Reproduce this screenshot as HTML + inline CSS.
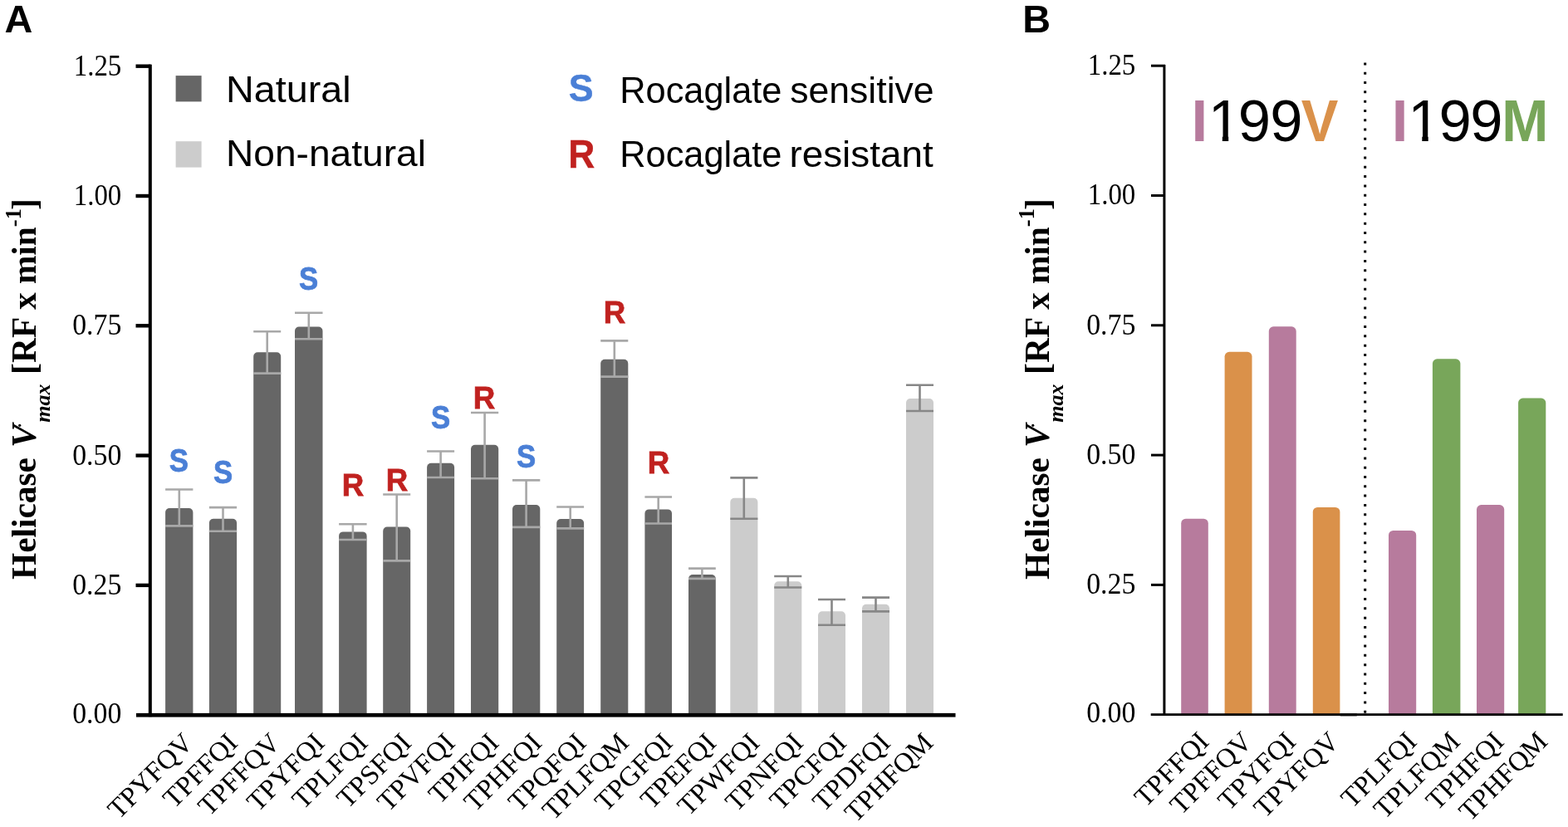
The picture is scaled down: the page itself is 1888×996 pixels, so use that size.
<!DOCTYPE html><html><head><meta charset="utf-8"><title>Helicase Vmax</title><style>
html,body{margin:0;padding:0;background:#fff;}body{width:1888px;height:996px;overflow:hidden;}
svg{display:block;}
.ser{font-family:'Liberation Serif', 'Times New Roman', serif;}.san{font-family:'Liberation Sans', Arial, sans-serif;}
</style></head><body>
<svg width="1888" height="996" viewBox="0 0 1888 996">
<rect width="1888" height="996" fill="#fff"/>
<text class="san" x="5.6" y="38.7" font-size="46.8" font-weight="bold">A</text>
<text class="san" x="1231.2" y="38.7" font-size="46.8" font-weight="bold">B</text>
<path d="M199.1,861.2V617.1A5.0,5.0 0 0 1 204.1,612.1H227.4A5.0,5.0 0 0 1 232.4,617.1V861.2Z" fill="#666666"/>
<path d="M251.9,861.2V629.8A5.0,5.0 0 0 1 256.9,624.8H280.1A5.0,5.0 0 0 1 285.1,629.8V861.2Z" fill="#666666"/>
<path d="M305.2,861.2V429.2A5.0,5.0 0 0 1 310.2,424.2H333.2A5.0,5.0 0 0 1 338.2,429.2V861.2Z" fill="#666666"/>
<path d="M355.0,861.2V398.5A5.0,5.0 0 0 1 360.0,393.5H383.5A5.0,5.0 0 0 1 388.5,398.5V861.2Z" fill="#666666"/>
<path d="M408.1,861.2V645.4A5.0,5.0 0 0 1 413.1,640.4H436.6A5.0,5.0 0 0 1 441.6,645.4V861.2Z" fill="#666666"/>
<path d="M461.2,861.2V639.6A5.0,5.0 0 0 1 466.2,634.6H489.2A5.0,5.0 0 0 1 494.2,639.6V861.2Z" fill="#666666"/>
<path d="M514.1,861.2V562.7A5.0,5.0 0 0 1 519.1,557.7H542.1A5.0,5.0 0 0 1 547.1,562.7V861.2Z" fill="#666666"/>
<path d="M567.0,861.2V540.8A5.0,5.0 0 0 1 572.0,535.8H595.2A5.0,5.0 0 0 1 600.2,540.8V861.2Z" fill="#666666"/>
<path d="M617.0,861.2V613.1A5.0,5.0 0 0 1 622.0,608.1H645.3A5.0,5.0 0 0 1 650.3,613.1V861.2Z" fill="#666666"/>
<path d="M670.2,861.2V630.0A5.0,5.0 0 0 1 675.2,625.0H698.1A5.0,5.0 0 0 1 703.1,630.0V861.2Z" fill="#666666"/>
<path d="M723.2,861.2V437.7A5.0,5.0 0 0 1 728.2,432.7H751.3A5.0,5.0 0 0 1 756.3,437.7V861.2Z" fill="#666666"/>
<path d="M776.4,861.2V618.4A5.0,5.0 0 0 1 781.4,613.4H804.0A5.0,5.0 0 0 1 809.0,618.4V861.2Z" fill="#666666"/>
<path d="M829.0,861.2V697.0A5.0,5.0 0 0 1 834.0,692.0H856.8A5.0,5.0 0 0 1 861.8,697.0V861.2Z" fill="#666666"/>
<path d="M879.3,861.2V604.8A5.0,5.0 0 0 1 884.3,599.8H907.4A5.0,5.0 0 0 1 912.4,604.8V861.2Z" fill="#cccccc"/>
<path d="M932.2,861.2V705.2A5.0,5.0 0 0 1 937.2,700.2H960.3A5.0,5.0 0 0 1 965.3,705.2V861.2Z" fill="#cccccc"/>
<path d="M985.0,861.2V741.3A5.0,5.0 0 0 1 990.0,736.3H1013.0A5.0,5.0 0 0 1 1018.0,741.3V861.2Z" fill="#cccccc"/>
<path d="M1038.0,861.2V732.8A5.0,5.0 0 0 1 1043.0,727.8H1066.0A5.0,5.0 0 0 1 1071.0,732.8V861.2Z" fill="#cccccc"/>
<path d="M1091.0,861.2V485.0A5.0,5.0 0 0 1 1096.0,480.0H1119.0A5.0,5.0 0 0 1 1124.0,485.0V861.2Z" fill="#cccccc"/>
<g stroke="#a8a8a8" stroke-width="2.6" fill="none"><path d="M199.1,589.5H232.4M215.8,589.5V633.4M199.1,633.4H232.4"/></g>
<text class="san" transform="translate(215.4,567.7) scale(0.91,1)" font-size="38.2" font-weight="bold" fill="#4a7fd6" stroke="#4a7fd6" stroke-width="0.8" text-anchor="middle">S</text>
<g stroke="#a8a8a8" stroke-width="2.6" fill="none"><path d="M251.9,611.1H285.1M268.5,611.1V639.7M251.9,639.7H285.1"/></g>
<text class="san" transform="translate(268.5,581.6) scale(0.91,1)" font-size="38.2" font-weight="bold" fill="#4a7fd6" stroke="#4a7fd6" stroke-width="0.8" text-anchor="middle">S</text>
<g stroke="#a8a8a8" stroke-width="2.6" fill="none"><path d="M305.2,399.2H338.2M321.7,399.2V449.6M305.2,449.6H338.2"/></g>
<g stroke="#a8a8a8" stroke-width="2.6" fill="none"><path d="M355.0,376.7H388.5M371.8,376.7V408.3M355.0,408.3H388.5"/></g>
<text class="san" transform="translate(371.5,348.9) scale(0.91,1)" font-size="38.2" font-weight="bold" fill="#4a7fd6" stroke="#4a7fd6" stroke-width="0.8" text-anchor="middle">S</text>
<g stroke="#a8a8a8" stroke-width="2.6" fill="none"><path d="M408.1,631.2H441.6M424.9,631.2V650.0M408.1,650.0H441.6"/></g>
<text class="san" transform="translate(425.1,597.0) scale(0.97,1)" font-size="37.8" font-weight="bold" fill="#c0211f" stroke="#c0211f" stroke-width="0.8" text-anchor="middle">R</text>
<g stroke="#a8a8a8" stroke-width="2.6" fill="none"><path d="M461.2,595.5H494.2M477.7,595.5V675.4M461.2,675.4H494.2"/></g>
<text class="san" transform="translate(478.0,591.1) scale(0.97,1)" font-size="37.8" font-weight="bold" fill="#c0211f" stroke="#c0211f" stroke-width="0.8" text-anchor="middle">R</text>
<g stroke="#a8a8a8" stroke-width="2.6" fill="none"><path d="M514.1,543.5H547.1M530.6,543.5V575.0M514.1,575.0H547.1"/></g>
<text class="san" transform="translate(530.6,515.9) scale(0.91,1)" font-size="38.2" font-weight="bold" fill="#4a7fd6" stroke="#4a7fd6" stroke-width="0.8" text-anchor="middle">S</text>
<g stroke="#a8a8a8" stroke-width="2.6" fill="none"><path d="M567.0,497.0H600.2M583.6,497.0V576.2M567.0,576.2H600.2"/></g>
<text class="san" transform="translate(583.1,491.9) scale(0.97,1)" font-size="37.8" font-weight="bold" fill="#c0211f" stroke="#c0211f" stroke-width="0.8" text-anchor="middle">R</text>
<g stroke="#a8a8a8" stroke-width="2.6" fill="none"><path d="M617.0,578.4H650.3M633.6,578.4V634.9M617.0,634.9H650.3"/></g>
<text class="san" transform="translate(633.6,563.4) scale(0.91,1)" font-size="38.2" font-weight="bold" fill="#4a7fd6" stroke="#4a7fd6" stroke-width="0.8" text-anchor="middle">S</text>
<g stroke="#a8a8a8" stroke-width="2.6" fill="none"><path d="M670.2,610.5H703.1M686.7,610.5V636.4M670.2,636.4H703.1"/></g>
<g stroke="#a8a8a8" stroke-width="2.6" fill="none"><path d="M723.2,410.4H756.3M739.8,410.4V453.6M723.2,453.6H756.3"/></g>
<text class="san" transform="translate(739.9,388.9) scale(0.97,1)" font-size="37.8" font-weight="bold" fill="#c0211f" stroke="#c0211f" stroke-width="0.8" text-anchor="middle">R</text>
<g stroke="#a8a8a8" stroke-width="2.6" fill="none"><path d="M776.4,598.5H809.0M792.7,598.5V630.5M776.4,630.5H809.0"/></g>
<text class="san" transform="translate(792.9,570.1) scale(0.97,1)" font-size="37.8" font-weight="bold" fill="#c0211f" stroke="#c0211f" stroke-width="0.8" text-anchor="middle">R</text>
<g stroke="#a8a8a8" stroke-width="2.6" fill="none"><path d="M829.0,684.6H861.8M845.4,684.6V696.9M829.0,696.9H861.8"/></g>
<g stroke="#878787" stroke-width="2.6" fill="none"><path d="M879.3,575.4H912.4M895.8,575.4V624.7M879.3,624.7H912.4"/></g>
<g stroke="#878787" stroke-width="2.6" fill="none"><path d="M932.2,694.0H965.3M948.8,694.0V707.5M932.2,707.5H965.3"/></g>
<g stroke="#878787" stroke-width="2.6" fill="none"><path d="M985.0,722.0H1018.0M1001.5,722.0V752.7M985.0,752.7H1018.0"/></g>
<g stroke="#878787" stroke-width="2.6" fill="none"><path d="M1038.0,719.6H1071.0M1054.5,719.6V736.4M1038.0,736.4H1071.0"/></g>
<g stroke="#878787" stroke-width="2.6" fill="none"><path d="M1091.0,463.8H1124.0M1107.5,463.8V495.0M1091.0,495.0H1124.0"/></g>
<g fill="#000">
<rect x="178.8" y="77.7" width="4" height="785.5"/>
<rect x="163.5" y="77.5" width="18" height="4.4"/>
<rect x="163.5" y="233.8" width="18" height="4.4"/>
<rect x="163.5" y="390.1" width="18" height="4.4"/>
<rect x="163.5" y="546.4" width="18" height="4.4"/>
<rect x="163.5" y="702.7" width="18" height="4.4"/>
<rect x="164" y="858.9" width="986.5" height="4.7"/>
</g>
<text class="ser" x="146.3" y="90.6" font-size="35.5" text-anchor="end" textLength="57.5" lengthAdjust="spacingAndGlyphs">1.25</text>
<text class="ser" x="146.3" y="246.9" font-size="35.5" text-anchor="end" textLength="57.5" lengthAdjust="spacingAndGlyphs">1.00</text>
<text class="ser" x="146.3" y="403.2" font-size="35.5" text-anchor="end" textLength="59.1" lengthAdjust="spacingAndGlyphs">0.75</text>
<text class="ser" x="146.3" y="559.5" font-size="35.5" text-anchor="end" textLength="59.1" lengthAdjust="spacingAndGlyphs">0.50</text>
<text class="ser" x="146.3" y="715.8" font-size="35.5" text-anchor="end" textLength="59.1" lengthAdjust="spacingAndGlyphs">0.25</text>
<text class="ser" x="146.3" y="870.8" font-size="35.5" text-anchor="end" textLength="59.1" lengthAdjust="spacingAndGlyphs">0.00</text>
<text class="ser" transform="translate(42.5,698) rotate(-90)" font-size="42" font-weight="bold"><tspan textLength="146.8" lengthAdjust="spacingAndGlyphs">Helicase</tspan><tspan dx="12.2" font-style="italic">V</tspan><tspan font-style="italic" font-size="26" dy="17" dx="2.2">max</tspan><tspan dy="-17" dx="11.6">[</tspan><tspan textLength="163.8" lengthAdjust="spacingAndGlyphs">RF x min</tspan><tspan font-size="26.5" dy="-18">-1</tspan><tspan dy="18" dx="-2">]</tspan></text><circle cx="23.7" cy="512.3" r="1.6" fill="#000"/>
<text class="ser" transform="translate(1262.5,698) rotate(-90)" font-size="42" font-weight="bold"><tspan textLength="146.8" lengthAdjust="spacingAndGlyphs">Helicase</tspan><tspan dx="12.2" font-style="italic">V</tspan><tspan font-style="italic" font-size="26" dy="17" dx="2.2">max</tspan><tspan dy="-17" dx="11.6">[</tspan><tspan textLength="163.8" lengthAdjust="spacingAndGlyphs">RF x min</tspan><tspan font-size="26.5" dy="-18">-1</tspan><tspan dy="18" dx="-2">]</tspan></text><circle cx="1243.7" cy="512.3" r="1.6" fill="#000"/>
<rect x="211.6" y="91.1" width="31" height="31.3" fill="#666666"/>
<rect x="211.6" y="170.2" width="31" height="31.4" fill="#cccccc"/>
<text class="san" x="272.0" y="123.2" font-size="45" textLength="150.6" lengthAdjust="spacingAndGlyphs">Natural</text>
<text class="san" x="272.0" y="199.5" font-size="45" textLength="240.97" lengthAdjust="spacingAndGlyphs">Non-natural</text>
<text class="san" transform="translate(699.55,122.3) scale(0.95,1)" font-size="47" font-weight="bold" fill="#4a7fd6" stroke="#4a7fd6" stroke-width="0.5" text-anchor="middle">S</text>
<text class="san" transform="translate(700.3,201.7) scale(0.94,1)" font-size="47.2" font-weight="bold" fill="#c0211f" stroke="#c0211f" stroke-width="0.4" text-anchor="middle">R</text>
<text class="san" y="123.6" font-size="45"><tspan x="746.3" textLength="195.06" lengthAdjust="spacingAndGlyphs">Rocaglate</tspan> <tspan x="951.2" textLength="173.45" lengthAdjust="spacingAndGlyphs">sensitive</tspan></text>
<text class="san" y="200.7" font-size="45"><tspan x="746.3" textLength="195.06" lengthAdjust="spacingAndGlyphs">Rocaglate</tspan> <tspan x="950.4" textLength="173.24" lengthAdjust="spacingAndGlyphs">resistant</tspan></text>
<text class="ser" transform="translate(234.2,896.5) rotate(-45)" font-size="33.2" text-anchor="end">TPYFQV</text>
<text class="ser" transform="translate(287.8,896.5) rotate(-45)" font-size="33.2" text-anchor="end">TPFFQI</text>
<text class="ser" transform="translate(339.2,896.5) rotate(-45)" font-size="33.2" text-anchor="end">TPFFQV</text>
<text class="ser" transform="translate(392.6,896.5) rotate(-45)" font-size="33.2" text-anchor="end">TPYFQI</text>
<text class="ser" transform="translate(444.6,896.5) rotate(-45)" font-size="33.2" text-anchor="end">TPLFQI</text>
<text class="ser" transform="translate(497.0,896.5) rotate(-45)" font-size="33.2" text-anchor="end">TPSFQI</text>
<text class="ser" transform="translate(549.6,896.5) rotate(-45)" font-size="33.2" text-anchor="end">TPVFQI</text>
<text class="ser" transform="translate(602.2,896.5) rotate(-45)" font-size="33.2" text-anchor="end">TPIFQI</text>
<text class="ser" transform="translate(654.1,896.5) rotate(-45)" font-size="33.2" text-anchor="end">TPHFQI</text>
<text class="ser" transform="translate(707.5,896.5) rotate(-45)" font-size="33.2" text-anchor="end">TPQFQI</text>
<text class="ser" transform="translate(758.8,896.5) rotate(-45)" font-size="33.2" text-anchor="end">TPLFQM</text>
<text class="ser" transform="translate(811.7,896.5) rotate(-45)" font-size="33.2" text-anchor="end">TPGFQI</text>
<text class="ser" transform="translate(864.0,896.5) rotate(-45)" font-size="33.2" text-anchor="end">TPEFQI</text>
<text class="ser" transform="translate(916.3,896.5) rotate(-45)" font-size="33.2" text-anchor="end">TPWFQI</text>
<text class="ser" transform="translate(968.9,896.5) rotate(-45)" font-size="33.2" text-anchor="end">TPNFQI</text>
<text class="ser" transform="translate(1020.8,896.5) rotate(-45)" font-size="33.2" text-anchor="end">TPCFQI</text>
<text class="ser" transform="translate(1073.8,896.5) rotate(-45)" font-size="33.2" text-anchor="end">TPDFQI</text>
<text class="ser" transform="translate(1125.4,896.5) rotate(-45)" font-size="33.2" text-anchor="end">TPHFQM</text>
<path d="M1422.2,860.2V630.2A5.5,5.5 0 0 1 1427.7,624.7H1449.3A5.5,5.5 0 0 1 1454.8,630.2V860.2Z" fill="#b77b9d"/>
<path d="M1474.6,860.2V429.3A5.5,5.5 0 0 1 1480.1,423.8H1502.0A5.5,5.5 0 0 1 1507.5,429.3V860.2Z" fill="#da914a"/>
<path d="M1527.8,860.2V398.8A5.5,5.5 0 0 1 1533.3,393.3H1555.2A5.5,5.5 0 0 1 1560.7,398.8V860.2Z" fill="#b77b9d"/>
<path d="M1580.8,860.2V616.5A5.5,5.5 0 0 1 1586.3,611.0H1607.9A5.5,5.5 0 0 1 1613.4,616.5V860.2Z" fill="#da914a"/>
<path d="M1672.0,860.2V644.5A5.5,5.5 0 0 1 1677.5,639.0H1699.7A5.5,5.5 0 0 1 1705.2,644.5V860.2Z" fill="#b77b9d"/>
<path d="M1724.9,860.2V437.8A5.5,5.5 0 0 1 1730.4,432.3H1752.9A5.5,5.5 0 0 1 1758.4,437.8V860.2Z" fill="#78a65a"/>
<path d="M1778.0,860.2V613.6A5.5,5.5 0 0 1 1783.5,608.1H1805.7A5.5,5.5 0 0 1 1811.2,613.6V860.2Z" fill="#b77b9d"/>
<path d="M1828.1,860.2V485.1A5.5,5.5 0 0 1 1833.6,479.6H1855.8A5.5,5.5 0 0 1 1861.3,485.1V860.2Z" fill="#78a65a"/>
<g fill="#000">
<rect x="1400.4" y="78" width="3" height="783.5"/>
<rect x="1386" y="77.7" width="17" height="3"/>
<rect x="1386" y="234.0" width="17" height="3"/>
<rect x="1386" y="390.3" width="17" height="3"/>
<rect x="1386" y="546.6" width="17" height="3"/>
<rect x="1386" y="702.9" width="17" height="3"/>
<rect x="1385.7" y="859.2" width="496" height="2.8"/>
<rect x="1613.7" y="859.4" width="20.1" height="3.0"/>
</g>
<text class="ser" x="1367.3" y="90.1" font-size="35.5" text-anchor="end" textLength="57.5" lengthAdjust="spacingAndGlyphs">1.25</text>
<text class="ser" x="1367.3" y="246.4" font-size="35.5" text-anchor="end" textLength="57.5" lengthAdjust="spacingAndGlyphs">1.00</text>
<text class="ser" x="1367.3" y="402.7" font-size="35.5" text-anchor="end" textLength="59.1" lengthAdjust="spacingAndGlyphs">0.75</text>
<text class="ser" x="1367.3" y="559.0" font-size="35.5" text-anchor="end" textLength="59.1" lengthAdjust="spacingAndGlyphs">0.50</text>
<text class="ser" x="1367.3" y="715.3" font-size="35.5" text-anchor="end" textLength="59.1" lengthAdjust="spacingAndGlyphs">0.25</text>
<text class="ser" x="1367.3" y="870.3" font-size="35.5" text-anchor="end" textLength="59.1" lengthAdjust="spacingAndGlyphs">0.00</text>
<line x1="1643.7" y1="75.4" x2="1643.7" y2="858.7" stroke="#000" stroke-width="3" stroke-dasharray="3 8.309"/>
<defs>
<clipPath id="one0" clipPathUnits="userSpaceOnUse"><rect x="1444.8" y="90" width="60" height="73.6"/><rect x="1471.8" y="90" width="7.4" height="90"/></clipPath>
<clipPath id="one1" clipPathUnits="userSpaceOnUse"><rect x="1685.3" y="90" width="60" height="73.6"/><rect x="1712.3" y="90" width="7.4" height="90"/></clipPath>
</defs>
<text class="san" x="1434.6" y="169.6" font-size="70.6" font-weight="bold" fill="#b77b9d">I</text>
<text class="san" x="1454.8" y="169.6" font-size="70.6" clip-path="url(#one0)">1</text>
<text class="san" x="1490.7" y="169.6" font-size="70.6">9</text>
<text class="san" x="1529.3" y="169.6" font-size="70.6">9</text>
<text class="san" x="1566.8" y="169.6" font-size="70.6" font-weight="bold" fill="#da914a" textLength="44.6" lengthAdjust="spacingAndGlyphs">V</text>
<text class="san" x="1675.7" y="169.6" font-size="70.6" font-weight="bold" fill="#b77b9d">I</text>
<text class="san" x="1695.3" y="169.6" font-size="70.6" clip-path="url(#one1)">1</text>
<text class="san" x="1732.6" y="169.6" font-size="70.6">9</text>
<text class="san" x="1770.2" y="169.6" font-size="70.6">9</text>
<text class="san" x="1808.3" y="169.6" font-size="70.6" font-weight="bold" fill="#78a65a" textLength="56.1" lengthAdjust="spacingAndGlyphs">M</text>
<text class="ser" transform="translate(1457.4,895.0) rotate(-45)" font-size="33.2" text-anchor="end">TPFFQI</text>
<text class="ser" transform="translate(1509.5,895.0) rotate(-45)" font-size="33.2" text-anchor="end">TPFFQV</text>
<text class="ser" transform="translate(1562.0,895.0) rotate(-45)" font-size="33.2" text-anchor="end">TPYFQI</text>
<text class="ser" transform="translate(1614.2,895.0) rotate(-45)" font-size="33.2" text-anchor="end">TPYFQV</text>
<text class="ser" transform="translate(1707.6,895.0) rotate(-45)" font-size="33.2" text-anchor="end">TPLFQI</text>
<text class="ser" transform="translate(1759.9,895.0) rotate(-45)" font-size="33.2" text-anchor="end">TPLFQM</text>
<text class="ser" transform="translate(1812.5,895.0) rotate(-45)" font-size="33.2" text-anchor="end">TPHFQI</text>
<text class="ser" transform="translate(1865.2,895.0) rotate(-45)" font-size="33.2" text-anchor="end">TPHFQM</text>
</svg></body></html>
